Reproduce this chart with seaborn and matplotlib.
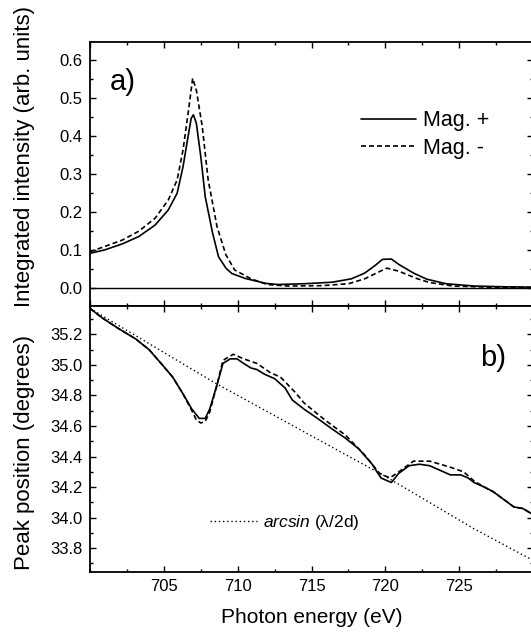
import numpy as np
import pandas as pd
import matplotlib
matplotlib.use('Agg')
import matplotlib.pyplot as plt
from matplotlib.ticker import MultipleLocator
import seaborn as sns

# panel a) integrated intensity, Mag. +
energy_plus = [700.0, 701.0, 702.2, 703.3, 704.4, 705.3, 705.9, 706.3, 706.6, 706.85,
               707.0, 707.2, 707.5, 707.8, 708.3, 708.7, 709.2, 709.6, 710.5, 711.9,
               712.7, 714.5, 716.4, 717.7, 718.6, 719.3, 719.8, 720.4, 720.9,
               721.9, 722.8, 724.1, 726.0, 728.0, 730.0]
intensity_plus = [0.092, 0.101, 0.117, 0.136, 0.166, 0.206, 0.250, 0.320, 0.390, 0.447,
                  0.456, 0.434, 0.346, 0.241, 0.145, 0.083, 0.053, 0.039, 0.026, 0.013,
                  0.010, 0.012, 0.016, 0.025, 0.040, 0.060, 0.076, 0.077, 0.063,
                  0.040, 0.024, 0.012, 0.006, 0.004, 0.003]

# panel a) integrated intensity, Mag. -
energy_minus = [700.0, 702.2, 703.3, 704.4, 705.3, 705.9, 706.3, 706.7, 706.95,
                707.2, 707.6, 708.0, 708.6, 709.2, 709.8, 710.9, 712.0, 713.4,
                715.7, 717.5, 718.6, 719.6, 720.1, 720.9, 722.1, 723.0, 724.6, 727.0, 730.0]
intensity_minus = [0.096, 0.127, 0.150, 0.184, 0.232, 0.285, 0.364, 0.477, 0.552,
                   0.521, 0.425, 0.285, 0.162, 0.088, 0.048, 0.025, 0.010, 0.006,
                   0.007, 0.012, 0.025, 0.044, 0.053, 0.045, 0.026, 0.015, 0.006, 0.003, 0.002]

# panel b) peak position, Mag. +
pos_energy_plus = [700.0, 700.8, 701.9, 703.1, 704.0, 704.9, 705.6, 706.3, 706.9, 707.4,
                   707.8, 708.1, 708.6, 709.0, 709.5, 709.95, 710.4, 710.9, 711.3, 711.8,
                   712.5, 713.2, 713.7, 714.5, 715.4, 716.4, 717.3, 718.2, 719.1, 719.7,
                   720.4, 720.9, 721.6, 722.3, 723.0, 723.7, 724.4, 725.1, 725.6, 726.0,
                   726.7, 727.3, 728.0, 728.7, 729.3, 730.0]
position_plus = [35.37, 35.31, 35.24, 35.17, 35.10, 35.00, 34.92, 34.81, 34.71, 34.65,
                 34.65, 34.71, 34.87, 35.01, 35.04, 35.04, 35.01, 34.98, 34.97, 34.94,
                 34.91, 34.85, 34.77, 34.71, 34.65, 34.58, 34.52, 34.45, 34.35, 34.26,
                 34.23, 34.29, 34.34, 34.35, 34.34, 34.31, 34.28, 34.28, 34.26, 34.23,
                 34.20, 34.17, 34.12, 34.07, 34.06, 34.02]

# panel b) peak position, Mag. -
pos_energy_minus = [700.0, 700.8, 701.9, 703.1, 704.0, 704.9, 705.6, 706.3, 706.9, 707.2,
                    707.5, 707.8, 708.1, 708.6, 709.0, 709.7, 710.4, 711.3, 712.2, 712.9,
                    713.9, 714.5, 715.9, 717.3, 718.6, 719.6, 720.3, 720.9, 721.9, 723.0,
                    724.4, 725.3, 726.0, 726.7, 727.3, 728.0, 728.7, 729.3, 730.0]
position_minus = [35.37, 35.31, 35.24, 35.17, 35.10, 35.00, 34.92, 34.81, 34.70, 34.64,
                  34.62, 34.63, 34.69, 34.87, 35.03, 35.07, 35.04, 35.01, 34.95, 34.92,
                  34.82, 34.75, 34.64, 34.54, 34.41, 34.29, 34.26, 34.30, 34.37, 34.37,
                  34.33, 34.30, 34.24, 34.20, 34.17, 34.12, 34.07, 34.06, 34.02]

# panel b) arcsin(lambda/2d) reference
arcsin_energy = [700.0, 708.5, 720.0, 725.95, 730.0]
arcsin_position = [35.37, 34.88, 34.27, 33.93, 33.72]

sns.set_style('ticks')
plt.rcParams['font.family'] = ['Liberation Sans', 'DejaVu Sans']
plt.rcParams['mathtext.fontset'] = 'custom'
plt.rcParams['mathtext.rm'] = 'Liberation Sans'
plt.rcParams['mathtext.it'] = 'Liberation Sans:italic'
plt.rcParams['axes.edgecolor'] = 'black'
plt.rcParams['text.color'] = 'black'
plt.rcParams['xtick.color'] = 'black'
plt.rcParams['ytick.color'] = 'black'
plt.rcParams['axes.labelcolor'] = 'black'

df_a_plus = pd.DataFrame({'energy': energy_plus, 'value': intensity_plus})
df_a_minus = pd.DataFrame({'energy': energy_minus, 'value': intensity_minus})
df_b_plus = pd.DataFrame({'energy': pos_energy_plus, 'value': position_plus})
df_b_minus = pd.DataFrame({'energy': pos_energy_minus, 'value': position_minus})
df_arcsin = pd.DataFrame({'energy': arcsin_energy, 'value': arcsin_position})

fig = plt.figure(figsize=(5.31, 6.33), dpi=100)
ax1 = fig.add_axes([0.1695, 0.5166, 0.8345, 0.4174])
ax2 = fig.add_axes([0.1695, 0.0968, 0.8345, 0.4198])

dash = (0, (3, 1.8))
dot = (0, (1, 2))

sns.lineplot(data=df_a_plus, x='energy', y='value', ax=ax1, color='black', lw=1.2,
             estimator=None, label='Mag. +')
sns.lineplot(data=df_a_minus, x='energy', y='value', ax=ax1, color='black', lw=1.2,
             linestyle=dash, estimator=None, label='Mag. -')
ax1.axhline(0, color='black', lw=1.0)

sns.lineplot(data=df_b_plus, x='energy', y='value', ax=ax2, color='black', lw=1.2,
             estimator=None, legend=False)
sns.lineplot(data=df_b_minus, x='energy', y='value', ax=ax2, color='black', lw=1.2,
             linestyle=dash, estimator=None, legend=False)
sns.lineplot(data=df_arcsin, x='energy', y='value', ax=ax2, color='black', lw=1.0,
             linestyle=dot, estimator=None, label=r'$\mathit{arcsin}$ (λ/2d)')

ax1.set_xlim(700, 730)
ax1.set_ylim(-0.0465, 0.648)
ax2.set_xlim(700, 730)
ax2.set_ylim(33.646, 35.386)

for ax in (ax1, ax2):
    ax.xaxis.set_major_locator(MultipleLocator(5))
    ax.xaxis.set_minor_locator(MultipleLocator(2.5))
    ax.tick_params(which='both', direction='in', top=True, right=True, width=1.0)
    ax.tick_params(which='major', length=4.5)
    ax.tick_params(which='minor', length=2.3)
    ax.tick_params(axis='x', labelsize=12, pad=5.5)
    ax.tick_params(axis='y', labelsize=12, pad=5.5)
    for s in ax.spines.values():
        s.set_linewidth(1.3)

ax1.yaxis.set_major_locator(MultipleLocator(0.1))
ax1.yaxis.set_minor_locator(MultipleLocator(0.05))
ax1.yaxis.set_major_formatter(plt.FormatStrFormatter('%.1f'))
ax2.yaxis.set_major_locator(MultipleLocator(0.2))
ax2.yaxis.set_minor_locator(MultipleLocator(0.1))
ax2.yaxis.set_major_formatter(plt.FormatStrFormatter('%.1f'))
ax2.set_xticks([705, 710, 715, 720, 725])
ax1.tick_params(axis='x', labelbottom=False)

ax1.set_xlabel('')
ax1.set_ylabel('Integrated intensity (arb. units)', fontsize=16)
ax1.yaxis.set_label_coords(-0.124, 0.5675)
ax2.set_xlabel('Photon energy (eV)', fontsize=15)
ax2.set_ylabel('Peak position (degrees)', fontsize=16)
ax2.yaxis.set_label_coords(-0.124, 0.45)
ax2.xaxis.set_label_coords(0.5, -0.135)

ax1.text(0.045, 0.817, 'a)', transform=ax1.transAxes, fontsize=21)
ax2.text(0.880, 0.774, 'b)', transform=ax2.transAxes, fontsize=21)

ax1.legend(loc='center left', bbox_to_anchor=(0.611, 0.6485), frameon=False,
           fontsize=15.5, handlelength=2.56, handletextpad=0.33, labelspacing=0.3,
           borderpad=0, borderaxespad=0)
ax2.legend(loc='center left', bbox_to_anchor=(0.271, 0.184), frameon=False,
           fontsize=12.5, handlelength=2.7, handletextpad=0.35,
           borderpad=0, borderaxespad=0)

fig.savefig('out.png', dpi=100)
